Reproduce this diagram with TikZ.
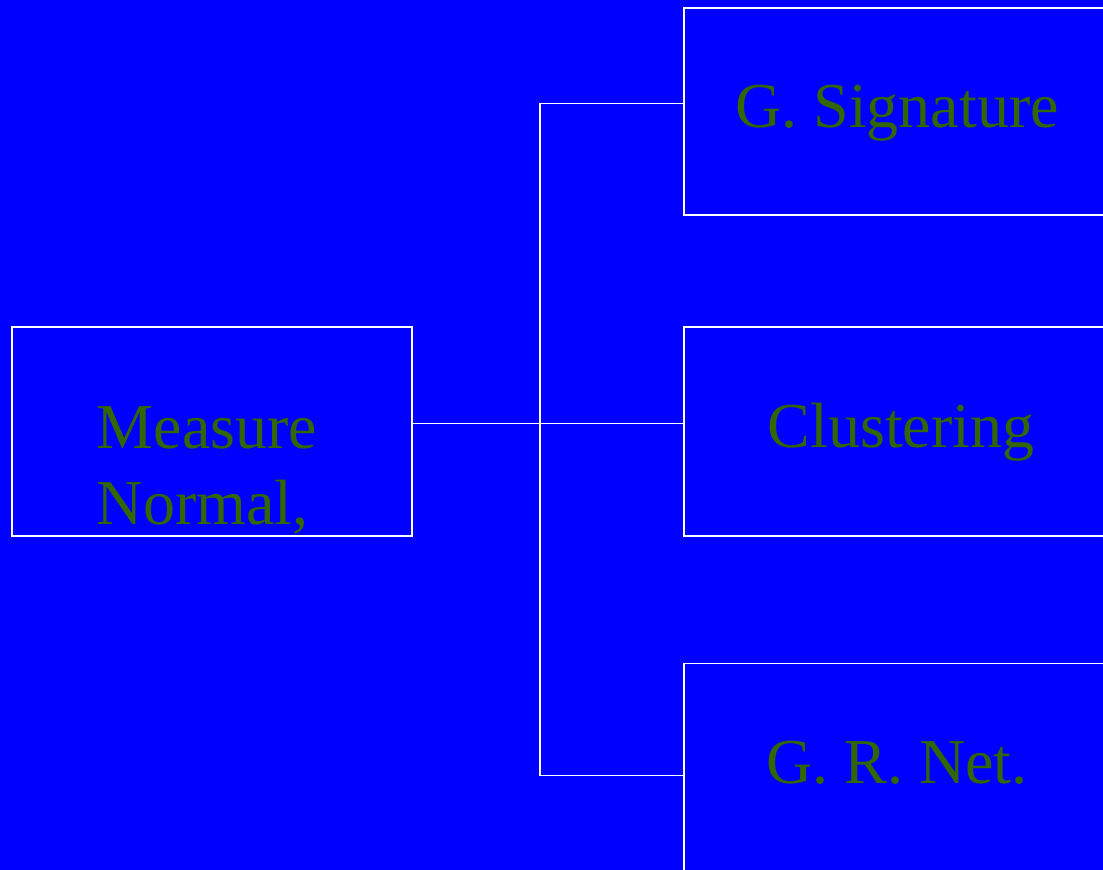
\documentclass[tikz,border=0pt]{standalone}
\usepackage{fontspec}
\setmainfont{Liberation Serif}
\usetikzlibrary{positioning}
\definecolor{slideblue}{HTML}{0000FF}
\definecolor{leafgreen}{HTML}{336600}

\begin{document}
\begin{tikzpicture}[x=1pt,y=-1pt,line width=1.8pt,
  box/.style={draw=white,minimum width=426pt,minimum height=208pt,inner sep=0pt,
    text=leafgreen,font=\fontsize{64}{76}\selectfont,text height=47pt,text depth=15pt},
  label/.style={text=leafgreen,font=\fontsize{64}{76}\selectfont,inner sep=0pt}]
  \useasboundingbox (0,0) rectangle (1103,870);
  \fill[slideblue] (0,0) rectangle (1103,870);
  \clip (0,0) rectangle (1103,870);
  % left box and its text
  \node[box,minimum width=400pt,minimum height=209pt] (measure) at (212,431.5) {};
  \node[label,align=left,anchor=base west] (measuretxt) at (96,524) {Measure\\Normal,};
  % right column
  \node[box,minimum height=207pt] (signature) at (897,111.5) {G. Signature};
  \node[box,minimum height=209pt] (cluster) at (897,431.5) {\hspace*{8pt}Clustering};
  \node[box] (grnet) at (897,767.5) {G. R. Net.};
  \coordinate (fork) at (540,424);
  % connectors
  \draw[white] ([yshift=8pt]measure.east) -- ([yshift=8pt]cluster.west);
  \draw[white] ([yshift=8pt]signature.west) -| (fork) |- ([yshift=-8pt]grnet.west);
\end{tikzpicture}
\end{document}
